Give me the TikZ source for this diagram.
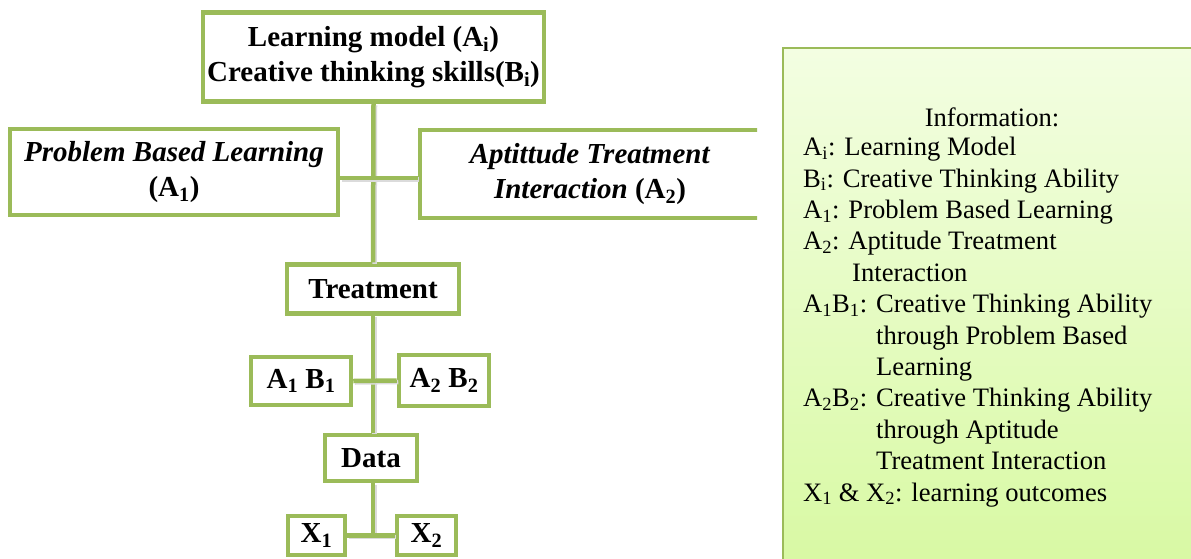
\documentclass[tikz,border=0pt]{standalone}
\usepackage{xcolor}
\usepackage{fontspec}
\setmainfont{Liberation Serif}
\definecolor{boxgreen}{HTML}{9BBB59}
\definecolor{infotop}{HTML}{F3FEE2}
\definecolor{infobottom}{HTML}{D8F9A3}

\begin{document}
\begin{tikzpicture}[x=1pt,y=-1pt,
    stage/.style={shape=rectangle,draw=boxgreen,line width=4.5pt,fill=white,align=center,inner sep=0pt,font=\fontsize{29}{35}\selectfont\bfseries},
    link/.style={draw=boxgreen,line width=4.5pt,preaction={draw=black!14,line width=4.5pt,transform canvas={shift={(1.5pt,-1.5pt)}}}},
    legend/.style={inner sep=0pt,align=left,font=\fontsize{26.6}{31.4}\selectfont}]
                    \useasboundingbox (0,0) rectangle (1191,558);

                    % chart
                    \node[stage,minimum width=341,minimum height=89] (model) at (373.5,57) {Learning model (A\textsubscript{i})\\Creative thinking skills(B\textsubscript{i})};
                    \node[stage,minimum width=328,minimum height=86] (pbl) at (174,172) {\textit{Problem Based Learning}\\(A\textsubscript{1})};
                    \begin{scope}
                    \clip (0,0) rectangle (757,558);
                    \node[stage,minimum width=340,minimum height=88] (ati) at (590,174) {\textit{Aptittude Treatment}\\\textit{Interaction} (A\textsubscript{2})};
                    \end{scope}
                    \node[stage,minimum width=172,minimum height=49] (treat) at (373,289) {Treatment};
                    \node[stage,minimum width=100,minimum height=48] (ab1) at (301,381) {A\textsubscript{1} B\textsubscript{1}};
                    \node[stage,minimum width=90,minimum height=51] (ab2) at (444,380.5) {A\textsubscript{2} B\textsubscript{2}};
                    \node[stage,minimum width=92,minimum height=46] (data) at (371,458) {Data};
                    \node[stage,minimum width=57,minimum height=39] (x1) at (316.5,535.5) {X\textsubscript{1}};
                    \node[stage,minimum width=59,minimum height=39] (x2) at (426.5,535.5) {X\textsubscript{2}};

                    \coordinate (pblj) at (373,178);
                    \coordinate (xj) at (373,535);

                    \draw[link] (model.south) -- (treat.north);
                    \draw[link] (pbl.east |- pblj) -- (ati.west |- pblj);
                    \draw[link] (treat.south) -- (treat.south |- data.north);
                    \draw[link] (ab1.east) -- (ab2.west);
                    \draw[link] (xj |- data.south) -- (xj);
                    \draw[link] (x1.east) -- (x2.west);

                    % legend
                    \node[shape=rectangle,draw=boxgreen,line width=2pt,top color=infotop,bottom color=infobottom,anchor=north west,minimum width=420,minimum height=520] (info) at (782,47) {};
                    \node[legend] (infotitle) at (992,117) {Information:};
                    \node[legend,anchor=north west] (infotext) at (803,137) {A\textsubscript{i}: Learning Model\\
                        B\textsubscript{i}: Creative Thinking Ability\\
                        A\textsubscript{1}: Problem Based Learning\\
                        A\textsubscript{2}: Aptitude Treatment\\
                        \hspace*{49pt}Interaction\\
                        A\textsubscript{1}B\textsubscript{1}: Creative Thinking Ability\\
                        \hspace*{73pt}through Problem Based\\
                        \hspace*{73pt}Learning\\
                        A\textsubscript{2}B\textsubscript{2}: Creative Thinking Ability\\
                        \hspace*{73pt}through Aptitude\\
                        \hspace*{73pt}Treatment Interaction\\
                        X\textsubscript{1} \& X\textsubscript{2}: learning outcomes};
                \end{tikzpicture}
\end{document}
